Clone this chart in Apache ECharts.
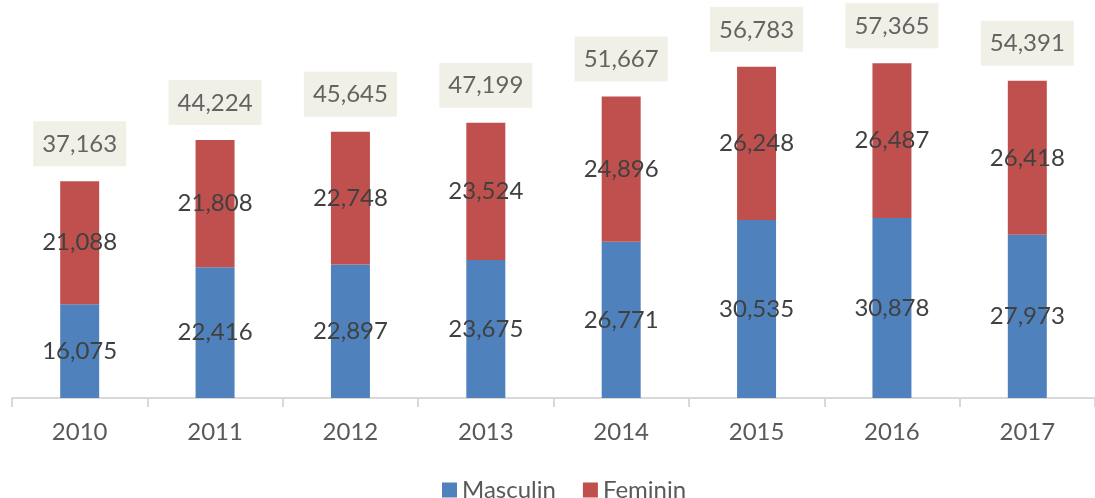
<!DOCTYPE html>
<html>
<head>
<meta charset="utf-8">
<script src="https://cdn.jsdelivr.net/npm/echarts@6/dist/echarts.min.js"></script>
<style>
html,body{margin:0;padding:0;background:#fff;}
#chart{width:1095px;height:498px;}
</style>
</head>
<body>
<div id="chart"></div>
<script>
const categories = ['2010','2011','2012','2013','2014','2015','2016','2017'];
const masculin = [16075, 22416, 22897, 23675, 26771, 30535, 30878, 27973];
const feminin = [21088, 21808, 22748, 23524, 24896, 26248, 26487, 26418];
const totals = [37163, 44224, 45645, 47199, 51667, 56783, 57365, 54391];

const FONT = 'Lato';
const FS = 24;
const fmt = v => v.toLocaleString('en-US');
const chart = echarts.init(document.getElementById('chart'));
chart.setOption({
  animation: false,
  textStyle: { fontFamily: FONT },
  grid: { left: 12, right: -10, top: 48, bottom: 100, containLabel: false },
  legend: {
    data: ['Masculin', 'Feminin'],
    left: 437, top: 473,
    itemWidth: 15, itemHeight: 15, itemGap: 27,
    icon: 'rect',
    textStyle: { fontSize: FS, color: '#595959', fontFamily: FONT }
  },
  xAxis: {
    type: 'category',
    data: categories,
    axisLine: { lineStyle: { color: '#D9D9D9', width: 2 } },
    axisTick: { show: true, length: 9, lineStyle: { color: '#D9D9D9', width: 2 } },
    axisLabel: { fontSize: FS, color: '#595959', margin: 22, fontFamily: FONT }
  },
  yAxis: {
    type: 'value', min: 0, max: 60000, show: false,
    splitLine: { show: false }
  },
  series: [
    {
      name: 'Masculin', type: 'bar', stack: 'total', data: masculin, barWidth: 39,
      itemStyle: { color: '#4F81BD' },
      label: { show: true, position: 'inside', color: '#404040', fontSize: FS, fontFamily: FONT, formatter: p => fmt(p.value) }
    },
    {
      name: 'Feminin', type: 'bar', stack: 'total', data: feminin, barWidth: 39,
      itemStyle: { color: '#C0504D' },
      label: { show: true, position: 'inside', color: '#404040', fontSize: FS, fontFamily: FONT, formatter: p => fmt(p.value) }
    },
    {
      name: 'Total', type: 'scatter', data: totals, symbolSize: 0, silent: true,
      label: {
        show: true, position: 'top', distance: 15,
        color: '#404040', fontSize: FS, fontFamily: FONT,
        backgroundColor: '#EEECE1', padding: [11, 9, 10, 9],
        formatter: p => fmt(p.value)
      }
    }
  ]
});
</script>
</body>
</html>
